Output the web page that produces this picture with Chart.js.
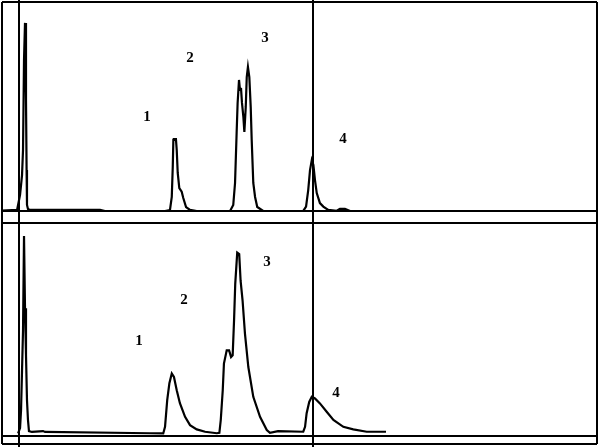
<!DOCTYPE html>
<html>
<head>
<meta charset="utf-8">
<script src="https://cdn.jsdelivr.net/npm/chart.js@4.4.1/dist/chart.umd.min.js"></script>
<style>
  html, body { margin: 0; padding: 0; background: #fff; }
  #wrap { position: relative; width: 600px; height: 447px; overflow: hidden; }
  #wrap canvas { position: absolute; left: 0; }
  #chartTop { top: 0; }
  #chartBottom { top: 222px; }
</style>
</head>
<body>
<div id="wrap">
  <canvas id="chartTop" width="600" height="222"></canvas>
  <canvas id="chartBottom" width="600" height="225"></canvas>
</div>
<script>
// ── Data (time in min, detector signal in % of full scale) ────────────────────
const topTime = [
  0, 0.76, 0.81, 0.91, 0.96, 1.01, 1.06, 1.11, 1.16, 1.21, 1.24, 1.26, 1.31, 1.41,
  4.94, 5.19, 8.22, 8.47, 8.56, 8.61, 8.64, 8.67, 8.77, 8.81, 8.86, 8.94, 9.06,
  9.14, 9.28, 9.48, 9.82, 11.5, 11.66, 11.75, 11.83, 11.88, 11.95, 12.0, 12.05,
  12.10, 12.17, 12.22, 12.29, 12.34, 12.40, 12.47, 12.54, 12.59, 12.67, 12.76,
  12.87, 13.17, 15.19, 15.33, 15.44, 15.53, 15.62, 15.70, 15.78, 15.87, 16.03,
  16.20, 16.45, 16.88, 17.04, 17.29, 17.55, 25.6
];
const topSignal = [
  0.2, 0.5, 2.9, 7.7, 12.4, 17.2, 29.2, 72.2, 90.0, 53.1, 19.6, 2.9, 1.0, 0.5,
  0.5, 0, 0, 0.5, 6.8, 21.2, 34.0, 34.4, 34.4, 29.2, 18.2, 11.0, 9.2,
  6.2, 1.9, 0.5, 0, 0, 2.9, 13.4, 37.3, 51.7, 62.7, 57.9, 58.9,
  51.7, 45.0, 37.8, 49.8, 64.1, 68.9, 64.1, 49.8, 34.0, 13.4, 6.7,
  1.9, 0, 0.1, 2.1, 10.0, 19.6, 24.4, 22.0, 14.8, 8.6, 3.8,
  2.1, 0.5, 0.1, 1.0, 1.0, 0, 0
];

const bottomTime = [
  0.81, 0.91, 0.96, 1.01, 1.06, 1.11, 1.16, 1.21, 1.26, 1.31, 1.36, 1.51, 2.07,
  2.17, 7.46, 8.13, 8.22, 8.33, 8.44, 8.56, 8.67, 8.81, 8.97, 9.23, 9.48, 9.82,
  10.24, 10.83, 10.96, 11.03, 11.13, 11.19, 11.33, 11.45, 11.55, 11.63, 11.70,
  11.76, 11.86, 11.96, 12.03, 12.13, 12.25, 12.42, 12.67, 13.01, 13.35, 13.51,
  13.92, 15.19, 15.28, 15.36, 15.49, 15.62, 15.78, 16.03, 16.37, 16.71, 17.21,
  17.71, 18.39, 19.36
];
const bottomSignal = [
  1.2, 3.7, 12.1, 30.8, 49.5, 93.9, 60.0, 38.0, 16.8, 7.5, 2.3, 1.9, 2.3,
  1.9, 1.3, 1.2, 4.3, 16.8, 24.8, 29.3, 27.7, 21.5, 15.4, 9.0, 5.1, 3.1,
  2.0, 1.3, 1.5, 7.5, 21.5, 34.0, 40.2, 40.2, 37.1, 37.9, 54.2,
  71.4, 86.1, 85.4, 72.9, 63.6, 48.1, 32.4, 18.4, 9.0, 2.8, 1.5,
  2.3, 2.0, 4.3, 10.7, 16.0, 18.4, 17.6, 15.3, 11.4, 7.5, 4.3,
  3.1, 2.0, 2.0
];

const markerTimes = [0.86, 15.68];

const peakNames = ['1', '2', '3', '4'];
const topLabelTimes = [7.31, 9.48, 13.26, 17.19];
const topLabelLevels = [45.0, 73.2, 82.8, 34.4];
const bottomLabelTimes = [6.91, 9.18, 13.36, 16.84];
const bottomLabelLevels = [44.4, 63.6, 81.8, 20.1];

// ── Frame, marker lines and peak numbers ──────────────────────────────────────
const framePlugin = {
  id: 'frame',
  afterDatasetsDraw(chart, args, opts) {
    const { ctx, chartArea: a, scales: { x, y } } = chart;
    ctx.save();
    ctx.strokeStyle = '#000';
    ctx.lineWidth = 2;
    ctx.beginPath();
    [a.left, a.right].forEach((px) => {
      ctx.moveTo(px, opts.sideFrom);
      ctx.lineTo(px, opts.sideTo);
    });
    opts.rows(a).forEach((py) => {
      ctx.moveTo(a.left, py);
      ctx.lineTo(a.right, py);
    });
    markerTimes.forEach((t) => {
      const px = Math.round(x.getPixelForValue(t));
      ctx.moveTo(px, 0);
      ctx.lineTo(px, chart.height);
    });
    ctx.stroke();

    ctx.fillStyle = '#000';
    ctx.font = 'bold 15px "Liberation Serif", serif';
    ctx.textAlign = 'center';
    ctx.textBaseline = 'middle';
    peakNames.forEach((name, i) => {
      ctx.fillText(name, x.getPixelForValue(opts.labelTimes[i]), y.getPixelForValue(opts.labelLevels[i]));
    });
    ctx.restore();
  },
};

function makeTrace(canvasId, times, signal, padding, frame) {
  return new Chart(document.getElementById(canvasId), {
    type: 'line',
    data: {
      datasets: [{
        data: times.map((t, i) => ({ x: t, y: signal[i] })),
        borderColor: '#000',
        borderWidth: 2.2,
        pointRadius: 0,
        tension: 0,
        clip: false,
      }],
    },
    options: {
      responsive: false,
      animation: false,
      events: [],
      layout: { padding },
      scales: {
        x: { type: 'linear', min: 0, max: 30, display: false },
        y: { min: 0, max: 100, display: false },
      },
      plugins: {
        legend: { display: false },
        tooltip: { enabled: false },
        frame,
      },
    },
    plugins: [framePlugin],
  });
}

makeTrace('chartTop', topTime, topSignal,
  { left: 2, right: 3, top: 2, bottom: 11 },
  {
    sideFrom: 2, sideTo: 222,
    rows: (a) => [a.top, a.bottom],
    labelTimes: topLabelTimes, labelLevels: topLabelLevels,
  });

makeTrace('chartBottom', bottomTime, bottomSignal,
  { left: 2, right: 3, top: 1, bottom: 11 },
  {
    sideFrom: 0, sideTo: 222,
    rows: (a) => [a.top, a.bottom, 222],
    labelTimes: bottomLabelTimes, labelLevels: bottomLabelLevels,
  });
</script>
</body>
</html>
